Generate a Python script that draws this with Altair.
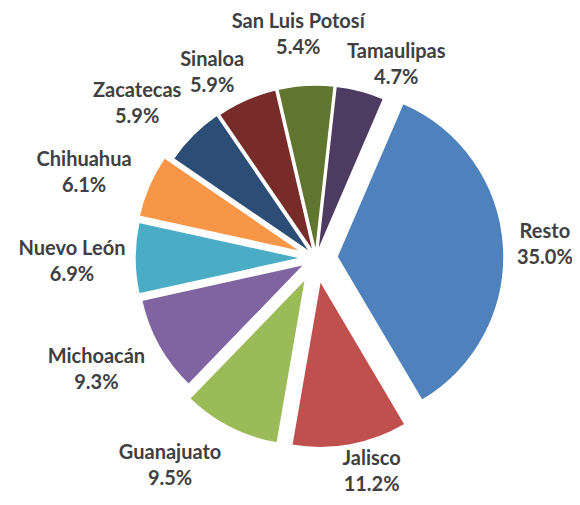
import altair as alt
import pandas as pd

# ---- data ----
names = ["Resto", "Jalisco", "Guanajuato", "Michoacán", "Nuevo León",
         "Chihuahua", "Zacatecas", "Sinaloa", "San Luis Potosí", "Tamaulipas"]
shares = [35.0, 11.2, 9.5, 9.3, 6.9, 6.1, 5.9, 5.9, 5.4, 4.7]

# ---- style ----
colors = ["#4F81BD", "#C0504D", "#9BBB59", "#8064A2", "#4BACC6",
          "#F79646", "#2C4D75", "#772C2A", "#5F7530", "#4D3B62"]
explode_px = [21, 23, 23, 13, 14, 15, 7, 6, 6, 6]          # slice explosion (px)
label_da = [0.4, -4.2, 8.1, 2.2, -1.0, -3.3, -4.2, -5.6, -1.2, 7.8]  # label angle nudge (deg)
label_dr = [-5, -12, 10, 4, -2, 2, 3, -9, 9, -12]            # label radius nudge (px)

W, H = 564, 489
CX, CY = 308, 250          # pie centre inside the view
R = 167                    # pie radius
START = 0.4067             # angle of first slice (rad)
PAD, HH, CW = 26, 12, 3.9  # label placement tuning

df = pd.DataFrame({
    "name": names,
    "value": shares,
    "idx": list(range(len(names))),
    "ex": explode_px,
    "da": label_da,
    "dr": label_dr,
})

base = (
    alt.Chart(df)
    .transform_joinaggregate(total="sum(value)")
    .transform_window(cum="sum(value)", sort=[alt.SortField("idx")], frame=[None, 0])
    .transform_calculate(a0=f"{START} + 2*PI*(datum.cum - datum.value)/datum.total")
    .transform_calculate(a1=f"{START} + 2*PI*datum.cum/datum.total")
    .transform_calculate(mid="(datum.a0 + datum.a1)/2")
    .transform_calculate(px=f"{CX} + datum.ex*sin(datum.mid)")
    .transform_calculate(py=f"{CY} - datum.ex*cos(datum.mid)")
    .transform_calculate(
        lr=f"{R} + datum.ex + {PAD} + {CW}*length(datum.name)*abs(sin(datum.mid)) + {HH}*abs(cos(datum.mid)) + datum.dr"
    )
    .transform_calculate(la="datum.mid + datum.da*PI/180")
    .transform_calculate(lx=f"{CX} + datum.lr*sin(datum.la)")
    .transform_calculate(ly=f"{CY} - datum.lr*cos(datum.la)")
    .transform_calculate(pct="format(datum.value, '.1f') + '%'")
)

pie = base.mark_arc(radius=R, stroke="white", strokeWidth=1.5).encode(
    x=alt.X("px:Q", scale=None, axis=None),
    y=alt.Y("py:Q", scale=None, axis=None),
    theta=alt.Theta("a0:Q", scale=None, stack=None),
    theta2="a1:Q",
    color=alt.Color("name:N", scale=alt.Scale(domain=names, range=colors), legend=None),
)

txt_style = dict(font="Lato", fontWeight="bold", fontSize=20, color="#404040",
                 align="center", baseline="middle")

lab_name = base.mark_text(dy=-13, **txt_style).encode(
    x=alt.X("lx:Q", scale=None, axis=None),
    y=alt.Y("ly:Q", scale=None, axis=None),
    text="name:N",
)
lab_pct = base.mark_text(dy=13, **txt_style).encode(
    x=alt.X("lx:Q", scale=None, axis=None),
    y=alt.Y("ly:Q", scale=None, axis=None),
    text="pct:N",
)

chart = (
    alt.layer(pie, lab_name, lab_pct)
    .properties(width=W, height=H, padding=0, autosize=alt.AutoSizeParams(type="none"))
    .configure_view(stroke=None)
)

chart.save("out.html", embed_options={"renderer": "svg", "actions": False})
